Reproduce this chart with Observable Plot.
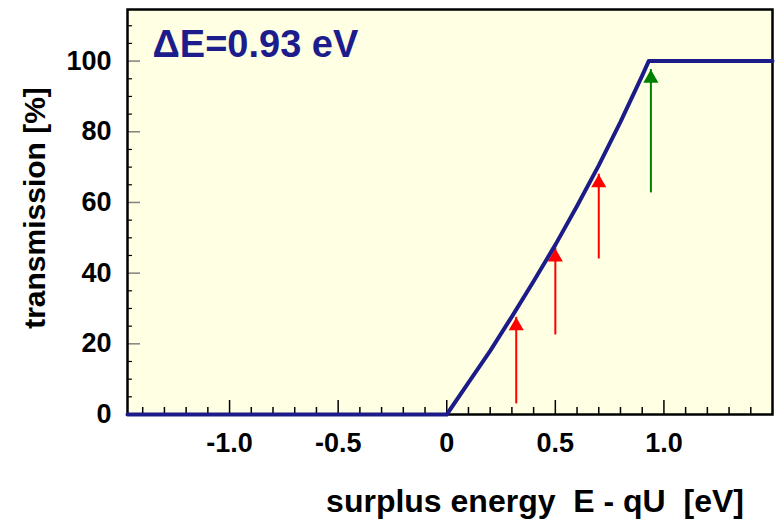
<!DOCTYPE html>
<html>
<head>
<meta charset="utf-8">
<script src="https://cdn.jsdelivr.net/npm/d3@7"></script>
<script src="https://cdn.jsdelivr.net/npm/@observablehq/plot@0.6"></script>
<style>
  html, body { margin: 0; padding: 0; background: #ffffff; }
  #chart svg text { white-space: pre; }
</style>
</head>
<body>
<div id="chart"></div>
<script>
// Transmission curve
const energy       = [-1.47, 0, 0.1, 0.2, 0.3, 0.4, 0.5, 0.6, 0.7, 0.8, 0.9, 0.93, 1.5];
const transmission = [0, 0, 9, 18, 27.7, 37.7, 48, 59, 70.5, 82.8, 95.9, 100, 100];

// Arrows
const arrowX     = [0.32, 0.50, 0.70, 0.94];
const arrowBase  = [3, 22.5, 44, 62.7];
const arrowTip   = [27.5, 47, 68, 97.6];
const arrowColor = ["#ff0000", "#ff0000", "#ff0000", "#008000"];

// Ticks and labels
const xMajorTicks = [-1, -0.5, 0, 0.5, 1];
const xMinorTicks = [-1.4, -1.3, -1.2, -1.1, -0.9, -0.8, -0.7, -0.6, -0.4, -0.3, -0.2, -0.1,
                     0.1, 0.2, 0.3, 0.4, 0.6, 0.7, 0.8, 0.9, 1.1, 1.2, 1.3, 1.4];
const yMajorTicks = [0, 20, 40, 60, 80, 100];
const yMinorTicks = [5, 10, 15, 25, 30, 35, 45, 50, 55, 65, 70, 75, 85, 90, 95, 105, 110];
const xDomain = [-1.47, 1.5];
const yDomain = [0, 114.6];

const titleText = ["\u0394E=0.93 eV"];
const xLabel = ["surplus energy  E - qU  [eV]"];
const yLabel = ["transmission [%]"];

const curve = energy.map((e, i) => ({e, t: transmission[i]}));
const arrows = arrowX.map((x, i) => ({x, base: arrowBase[i], tip: arrowTip[i], color: arrowColor[i]}));

const W = 778, H = 525;
const mL = 127, mR = 6, mT = 9, mB = 111;
const plotW = W - mL - mR, plotH = H - mT - mB;
const font = "'Liberation Sans', Arial, Helvetica, sans-serif";

const chart = Plot.plot({
  width: W,
  height: H,
  marginLeft: mL,
  marginRight: mR,
  marginTop: mT,
  marginBottom: mB,
  style: {fontFamily: font, fontWeight: "bold", background: "#ffffff", color: "#000"},
  x: {domain: xDomain},
  y: {domain: yDomain},
  marks: [
    Plot.frame({fill: "#ffffe4", stroke: null}),
    // minor/major inward ticks on x
    Plot.tickX(xMinorTicks, {x: d => d, stroke: "#000", strokeWidth: 1.5, insetTop: plotH - 7}),
    Plot.tickX(xMajorTicks, {x: d => d, stroke: "#000", strokeWidth: 1.5, insetTop: plotH - 14}),
    // minor/major inward ticks on y
    Plot.tickY(yMinorTicks, {y: d => d, stroke: "#000", strokeWidth: 1.2, insetRight: plotW - 5}),
    Plot.tickY(yMajorTicks, {y: d => d, stroke: "#808080", strokeWidth: 1.5, insetRight: plotW - 13}),
    // axes labels
    Plot.axisX({ticks: xMajorTicks, tickSize: 0, tickPadding: 18, fontSize: 27, fontWeight: "bold",
      tickFormat: d => d === 0 ? "0" : d.toFixed(1), label: null}),
    Plot.axisY({ticks: yMajorTicks, tickSize: 0, tickPadding: 16, fontSize: 27, fontWeight: "bold",
      tickFormat: d => String(d), label: null}),
    // frame
    Plot.frame({stroke: "#000", strokeWidth: 2.5}),
    // arrows
    Plot.ruleX(arrows, {x: "x", y1: "base", y2: "tip", stroke: "color", strokeWidth: 2}),
    Plot.dot(arrows, {x: "x", y: "tip", symbol: "triangle", r: 5.6, dy: 8.7, fill: "color", stroke: null}),
    // transmission curve
    Plot.line(curve, {x: "e", y: "t", stroke: "#1c1c88", strokeWidth: 4, strokeLinejoin: "round"}),
    // title and labels
    Plot.text(titleText, {frameAnchor: "top-left", dx: 25, dy: 35, text: d => d, fontSize: 38,
      fontWeight: "bold", fill: "#1c1c8c", textAnchor: "start", lineAnchor: "middle"}),
    Plot.text(xLabel, {frameAnchor: "bottom", dx: 85, dy: 87, text: d => d, fontSize: 32,
      fontWeight: "bold", fill: "#000", textAnchor: "middle", lineAnchor: "middle"}),
    Plot.text(yLabel, {frameAnchor: "left", dx: -92, dy: -4, rotate: -90, text: d => d, fontSize: 30,
      fontWeight: "bold", fill: "#000", textAnchor: "middle", lineAnchor: "middle"})
  ]
});

document.getElementById("chart").appendChild(chart);
</script>
</body>
</html>
